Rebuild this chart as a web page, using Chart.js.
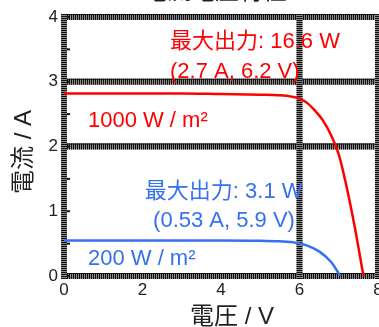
<!DOCTYPE html>
<html>
<head>
<meta charset="utf-8">
<script src="https://cdn.jsdelivr.net/npm/chart.js@4/dist/chart.umd.min.js"></script>
<style>
  body { margin: 0; background: #fff; }
  canvas { display: block; }
</style>
</head>
<body>
<canvas id="ivChart" width="379" height="327"></canvas>
<script>
// I-V curves
let voltage1000 = [0, 1, 2, 3, 4, 5, 5.5, 5.8, 6.0, 6.2, 6.4, 6.6, 6.8, 7.0, 7.2, 7.4, 7.63];
let current1000 = [2.82, 2.82, 2.82, 2.82, 2.81, 2.80, 2.79, 2.77, 2.74, 2.67, 2.55, 2.40, 2.18, 1.88, 1.38, 0.78, 0];
let voltage200 = [0, 1, 2, 3, 4, 5, 5.5, 5.9, 6.2, 6.5, 6.8, 7.04];
let current200 = [0.55, 0.55, 0.55, 0.55, 0.55, 0.545, 0.535, 0.515, 0.47, 0.38, 0.22, 0];

let xTicks = [0, 2, 4, 6, 8];
let yTicks = [0, 1, 2, 3, 4];
// striped grid bands
let xBands = [0, 6, 8];
let yBands = [0, 2, 3, 4];

let labels = [
    { text: '最大出力: 16.6 W', x: 2.70, y: 3.61, color: '#ff0000' },
    { text: '(2.7 A, 6.2 V)', x: 2.70, y: 3.15, color: '#ff0000' },
    { text: '1000 W / m²', x: 0.61, y: 2.39, color: '#ff0000' },
    { text: '最大出力: 3.1 W', x: 2.06, y: 1.30, color: '#3570f0' },
    { text: '(0.53 A, 5.9 V)', x: 2.27, y: 0.85, color: '#3570f0' },
    { text: '200 W / m²', x: 0.61, y: 0.26, color: '#3570f0' }
];

const FONT = '"Liberation Sans", Arial, "Noto Sans CJK JP", sans-serif';

function toPoints(xs, ys) {
    let pts = [];
    for (let i = 0; i < xs.length; i++) {
        pts.push({ x: xs[i], y: ys[i] });
    }
    return pts;
}

const bandPlugin = {
    id: 'bands',
    beforeDatasetsDraw(chart) {
        let ctx = chart.ctx;
        let xs = chart.scales.x, ys = chart.scales.y;
        let area = chart.chartArea;
        ctx.save();
        // horizontal bands
        yBands.forEach(v => {
            let py = ys.getPixelForValue(v);
            ctx.fillStyle = '#8a8a8a';
            ctx.fillRect(area.left - 3, py - 3, area.right - area.left + 6, 6);
            ctx.fillStyle = '#111';
            for (let px = area.left - 3; px < area.right + 3; px += 2) {
                ctx.fillRect(px, py - 3, 1, 6);
            }
            ctx.fillRect(area.left - 3, py - 3, area.right - area.left + 6, 1);
        });
        // vertical bands
        xBands.forEach(v => {
            let px = xs.getPixelForValue(v);
            ctx.fillStyle = '#8a8a8a';
            ctx.fillRect(px - 3, area.top - 3, 6, area.bottom - area.top + 6);
            ctx.fillStyle = '#111';
            for (let py = area.top - 3; py < area.bottom + 3; py += 2) {
                ctx.fillRect(px - 3, py, 6, 1);
            }
        });
        // small minor ticks on the left axis
        ctx.fillStyle = '#111';
        for (let v = 0; v <= 4; v += 0.5) {
            let py = ys.getPixelForValue(v);
            ctx.fillRect(area.left + 3, py - 1, 3, 2);
        }
        ctx.restore();
    },
    afterDraw(chart) {
        let ctx = chart.ctx;
        let xs = chart.scales.x, ys = chart.scales.y;
        ctx.save();
        ctx.textBaseline = 'middle';
        ctx.textAlign = 'left';
        ctx.font = '22px ' + FONT;
        labels.forEach(l => {
            ctx.fillStyle = l.color;
            ctx.fillText(l.text, xs.getPixelForValue(l.x), ys.getPixelForValue(l.y));
        });
        // axis titles
        ctx.fillStyle = '#222';
        ctx.font = '24px ' + FONT;
        ctx.textAlign = 'center';
        ctx.fillText('電圧 / V', 232, 317);
        ctx.save();
        ctx.translate(24, 152);
        ctx.rotate(-Math.PI / 2);
        ctx.fillText('電流 / A', 0, 0);
        ctx.restore();
        // title, mostly off the top edge
        ctx.textBaseline = 'alphabetic';
        ctx.fillText('電流電圧特性', 215, -1);
        ctx.restore();
    }
};

let ctx = document.getElementById('ivChart').getContext('2d');
let myChart = new Chart(ctx, {
    type: 'line',
    data: {
        datasets: [
            {
                label: '1000 W / m²',
                data: toPoints(voltage1000, current1000),
                borderColor: '#ff0000',
                borderWidth: 2.5,
                pointRadius: 0,
                cubicInterpolationMode: 'monotone',
                fill: false
            },
            {
                label: '200 W / m²',
                data: toPoints(voltage200, current200),
                borderColor: '#3570f0',
                borderWidth: 2.5,
                pointRadius: 0,
                cubicInterpolationMode: 'monotone',
                fill: false
            }
        ]
    },
    options: {
        responsive: false,
        animation: false,
        layout: { padding: { top: 17, right: 1, left: 0, bottom: 0 } },
        plugins: {
            legend: { display: false },
            tooltip: { enabled: false }
        },
        scales: {
            x: {
                type: 'linear',
                min: 0,
                max: 8,
                afterFit(scale) {
                    scale.height = 51;
                    scale.paddingLeft = 0;
                    scale.paddingRight = 0;
                },
                afterBuildTicks(scale) { scale.ticks = xTicks.map(v => ({ value: v })); },
                grid: { display: false, drawTicks: false },
                border: { display: false },
                ticks: { padding: 4, color: '#222', font: { size: 17, family: FONT }, maxRotation: 0 }
            },
            y: {
                min: 0,
                max: 4,
                afterFit(scale) {
                    scale.width = 64;
                    scale.paddingTop = 0;
                    scale.paddingBottom = 0;
                },
                afterBuildTicks(scale) { scale.ticks = yTicks.map(v => ({ value: v })); },
                grid: { display: false, drawTicks: false },
                border: { display: false },
                ticks: { padding: 6, color: '#222', font: { size: 17, family: FONT } }
            }
        }
    },
    plugins: [bandPlugin]
});
</script>
</body>
</html>
